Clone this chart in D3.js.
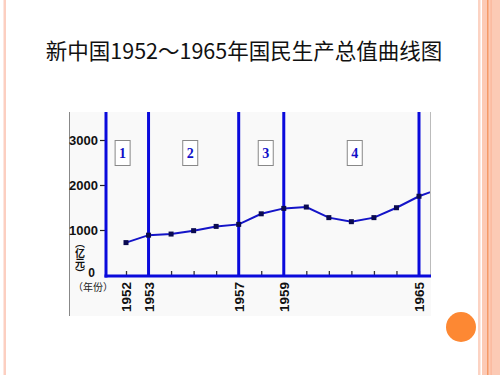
<!DOCTYPE html>
<html lang="zh">
<head>
    <meta charset="UTF-8">
    <title>新中国1952～1965年国民生产总值曲线图</title>
    <script src="https://d3js.org/d3.v7.min.js"></script>
    <style>
        body { margin: 0; background: #fff; }
        svg { display: block; }
    </style>
</head>
<body>
    <div id="chart"></div>

    <script>
        // Data (亿元)
        const years = [1952, 1953, 1954, 1955, 1956, 1957, 1958, 1959, 1960, 1961, 1962, 1963, 1964, 1965, 1966];
        const gnp = [720, 885, 910, 985, 1080, 1125, 1360, 1480, 1510, 1275, 1185, 1275, 1495, 1750, 1930];
        const markedYears = [1952, 1953, 1957, 1959, 1965];
        const dividerYears = [1953, 1957, 1959, 1965];
        const stageLabels = ["1", "2", "3", "4"];
        const stageYears = [1951.85, 1954.85, 1958.2, 1962.15];
        const yTicks = [0, 1000, 2000, 3000];

        const W = 500, H = 375;
        const img = {left: 69, top: 112, right: 431, bottom: 316};
        const plotLeft = 106, axisY = 276;
        const blue = "#0a0adc";

        const svg = d3.select("#chart")
            .append("svg")
            .attr("width", W)
            .attr("height", H);

        // Slide decoration
        svg.append("rect").attr("x", 3.5).attr("y", 0).attr("width", 2.5).attr("height", H).attr("fill", "#fccfc1");
        svg.append("rect").attr("x", 478).attr("y", 0).attr("width", 2.5).attr("height", H).attr("fill", "#fcd3c3");
        svg.append("rect").attr("x", 482).attr("y", 0).attr("width", 18).attr("height", H).attr("fill", "#fccab5");
        svg.append("rect").attr("x", 487).attr("y", 0).attr("width", 1.5).attr("height", H).attr("fill", "#f59a68");
        svg.append("rect").attr("x", 490.5).attr("y", 0).attr("width", 1.2).attr("height", H).attr("fill", "#fbb699");
        svg.append("circle").attr("cx", 461).attr("cy", 327).attr("r", 15).attr("fill", "#fd8833");

        // Title
        svg.append("text")
            .attr("x", 244)
            .attr("y", 59)
            .attr("text-anchor", "middle")
            .style("font-family", "'Noto Sans CJK SC', 'Noto Sans', sans-serif")
            .style("font-size", "21.5px")
            .attr("fill", "#111")
            .text("新中国1952～1965年国民生产总值曲线图");

        // Picture background and border
        svg.append("rect")
            .attr("x", img.left).attr("y", img.top)
            .attr("width", img.right - img.left).attr("height", img.bottom - img.top)
            .attr("fill", "#f9f9f9");
        svg.append("line")
            .attr("x1", img.left + 0.5).attr("x2", img.left + 0.5)
            .attr("y1", img.top).attr("y2", img.bottom)
            .attr("stroke", "#888").attr("stroke-width", 1);
        svg.append("line")
            .attr("x1", img.right - 0.5).attr("x2", img.right - 0.5)
            .attr("y1", img.top).attr("y2", axisY)
            .attr("stroke", "#bbb").attr("stroke-width", 1);

        // Scales
        const x = d3.scaleLinear().domain([1952, 1965]).range([126, 419]);
        const y = d3.scaleLinear().domain([0, 3000]).range([275, 140]);

        // Y axis labels and ticks
        const yAxis = svg.append("g")
            .attr("transform", `translate(${plotLeft},0)`)
            .call(d3.axisLeft(y).tickValues(yTicks).tickSize(6).tickFormat(d3.format("d")));
        yAxis.select(".domain").remove();
        yAxis.selectAll(".tick line").attr("stroke", "#222").attr("stroke-width", 1.2)
            .attr("x2", d => d === 0 ? 0 : -6);
        yAxis.selectAll(".tick text")
            .style("font-family", "Arial, 'Liberation Sans', sans-serif")
            .style("font-weight", "bold")
            .style("font-size", d => d === 0 ? "12px" : "13px")
            .attr("fill", "#111")
            .attr("x", d => d === 0 ? -11 : -8)
            .attr("dy", d => d === 0 ? "0.1em" : "0.32em");

        // Small year ticks on x axis
        const xTicks = svg.append("g")
            .attr("transform", `translate(0,${axisY})`)
            .call(d3.axisTop(x).tickValues(years.filter(d => d <= 1965)).tickSize(5).tickFormat(""));
        xTicks.select(".domain").remove();
        xTicks.selectAll(".tick line").attr("stroke", "#333").attr("stroke-width", 1.3);

        // Year labels
        const xLabels = svg.append("g")
            .attr("transform", `translate(0,${axisY})`)
            .call(d3.axisBottom(x).tickValues(markedYears).tickSize(0).tickFormat(d3.format("d")));
        xLabels.select(".domain").remove();
        xLabels.selectAll(".tick text")
            .attr("transform", "rotate(-90)")
            .attr("x", -6)
            .attr("y", 0)
            .attr("dy", "0.35em")
            .style("text-anchor", "end")
            .style("font-family", "Arial, 'Liberation Sans', sans-serif")
            .style("font-weight", "bold")
            .style("font-size", "13.5px")
            .attr("fill", "#111");

        // Blue divider lines
        svg.selectAll(".divider")
            .data(dividerYears)
            .enter().append("line")
            .attr("class", "divider")
            .attr("x1", d => x(d)).attr("x2", d => x(d))
            .attr("y1", img.top).attr("y2", axisY)
            .attr("stroke", blue).attr("stroke-width", 3);

        // Axis lines
        svg.append("line")
            .attr("x1", plotLeft).attr("x2", plotLeft)
            .attr("y1", img.top).attr("y2", axisY + 1.5)
            .attr("stroke", blue).attr("stroke-width", 3);
        svg.append("line")
            .attr("x1", plotLeft - 1.5).attr("x2", img.right)
            .attr("y1", axisY).attr("y2", axisY)
            .attr("stroke", blue).attr("stroke-width", 3);

        // Stage boxes
        const stage = svg.selectAll(".stage")
            .data(stageLabels)
            .enter().append("g")
            .attr("class", "stage")
            .attr("transform", (d, i) => `translate(${x(stageYears[i])},153)`);
        stage.append("rect")
            .attr("x", -7.5).attr("y", -12.5)
            .attr("width", 15).attr("height", 25)
            .attr("fill", "#fff").attr("stroke", "#888").attr("stroke-width", 1);
        stage.append("text")
            .attr("text-anchor", "middle")
            .attr("dy", "0.35em")
            .style("font-family", "'Liberation Serif', 'DejaVu Serif', serif")
            .style("font-weight", "bold")
            .style("font-size", "14px")
            .attr("fill", "#1010c8")
            .text(d => d);

        // Data line, clipped at picture edge
        svg.append("clipPath").attr("id", "clip")
            .append("rect")
            .attr("x", img.left).attr("y", img.top)
            .attr("width", img.right - img.left - 1).attr("height", img.bottom - img.top);

        const pts = years.map((yr, i) => ({year: yr, value: gnp[i]}));
        const line = d3.line().x(d => x(d.year)).y(d => y(d.value));

        const plot = svg.append("g").attr("clip-path", "url(#clip)");
        plot.append("path")
            .datum(pts)
            .attr("d", line)
            .attr("fill", "none")
            .attr("stroke", "#1414c8")
            .attr("stroke-width", 2);
        plot.selectAll(".pt")
            .data(pts)
            .enter().append("rect")
            .attr("class", "pt")
            .attr("x", d => x(d.year) - 2.5)
            .attr("y", d => y(d.value) - 2.5)
            .attr("width", 5).attr("height", 5)
            .attr("fill", "#0a0a50");

        // Unit label (亿元), written vertically
        svg.append("text")
            .attr("x", 80)
            .attr("y", 238)
            .style("writing-mode", "vertical-rl")
            .style("font-family", "'Noto Sans CJK SC', sans-serif")
            .style("font-weight", "bold")
            .style("font-size", "10px")
            .attr("fill", "#111")
            .text("（亿元）");

        svg.append("text")
            .attr("x", 93)
            .attr("y", 287)
            .attr("text-anchor", "middle")
            .attr("dy", "0.35em")
            .style("font-family", "'Noto Sans CJK SC', sans-serif")
            .style("font-size", "10px")
            .attr("fill", "#222")
            .attr("textLength", 40)
            .text("（年份）");
    </script>
</body>
</html>
